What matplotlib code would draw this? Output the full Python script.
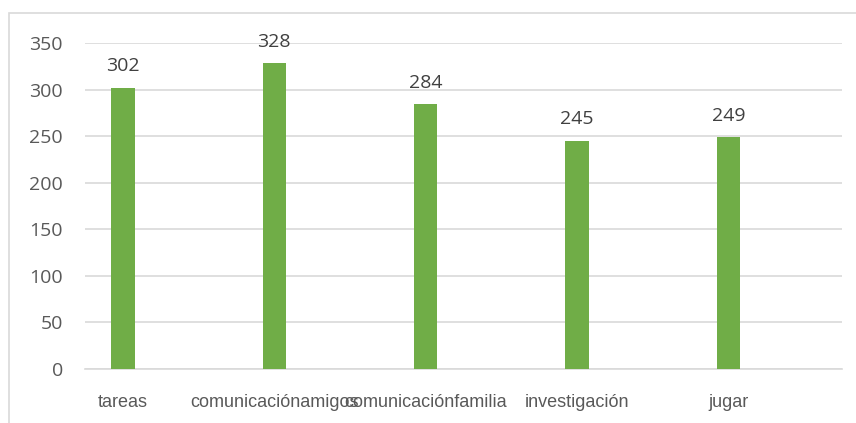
import matplotlib.pyplot as plt
from matplotlib.patches import Rectangle

categories = ["tareas", "", "comunicaciónamigos", "", "comunicaciónfamilia", "",
              "investigación", "", "jugar", ""]
values = [302, 0, 328, 0.5, 284, 0, 245, 0, 249, 0]
yticks = [0, 50, 100, 150, 200, 250, 300, 350]

plt.rcParams['font.family'] = ['Liberation Sans Narrow', 'Liberation Sans', 'DejaVu Sans']

fig = plt.figure(figsize=(8.56, 4.23), dpi=100)
ax = fig.add_axes([85/856, 54/423, 757/856, 326/423])

x = list(range(len(categories)))
bars = ax.bar(x, values, width=0.31, color="#70AD47", zorder=3)

for xi, v in zip(x, values):
    if v > 10:
        ax.annotate(str(v), (xi, v), xytext=(0, 9), textcoords="offset points",
                    ha="center", va="bottom", fontsize=14, color="#404040",
                    family=["Open Sans", "DejaVu Sans"], clip_on=False)

ax.set_xlim(-0.5, len(categories) - 0.5)
ax.set_ylim(0, 350)
ax.set_yticks(yticks)
ax.set_yticklabels([str(t) for t in yticks], family=["Open Sans", "DejaVu Sans"],
                   fontsize=14, color="#595959")
ax.set_xticks(x)
ax.set_xticklabels(categories, fontsize=13, color="#595959")
ax.tick_params(axis="y", length=0, pad=16)
ax.tick_params(axis="x", length=0, pad=18)
ax.grid(axis="y", color="#d9d9d9", linewidth=1.2, zorder=0)
for s in ["top", "right", "left"]:
    ax.spines[s].set_visible(False)
ax.spines["bottom"].set_color("#d9d9d9")
ax.spines["bottom"].set_linewidth(1.2)

# outer chart border (cut off at the right and bottom)
fig.patches.append(Rectangle((9/856, -0.1), 1.0, (423 - 13)/423 + 0.1,
                             transform=fig.transFigure, fill=False,
                             edgecolor="#d9d9d9", linewidth=1.2))

fig.savefig("out.png", dpi=100)
